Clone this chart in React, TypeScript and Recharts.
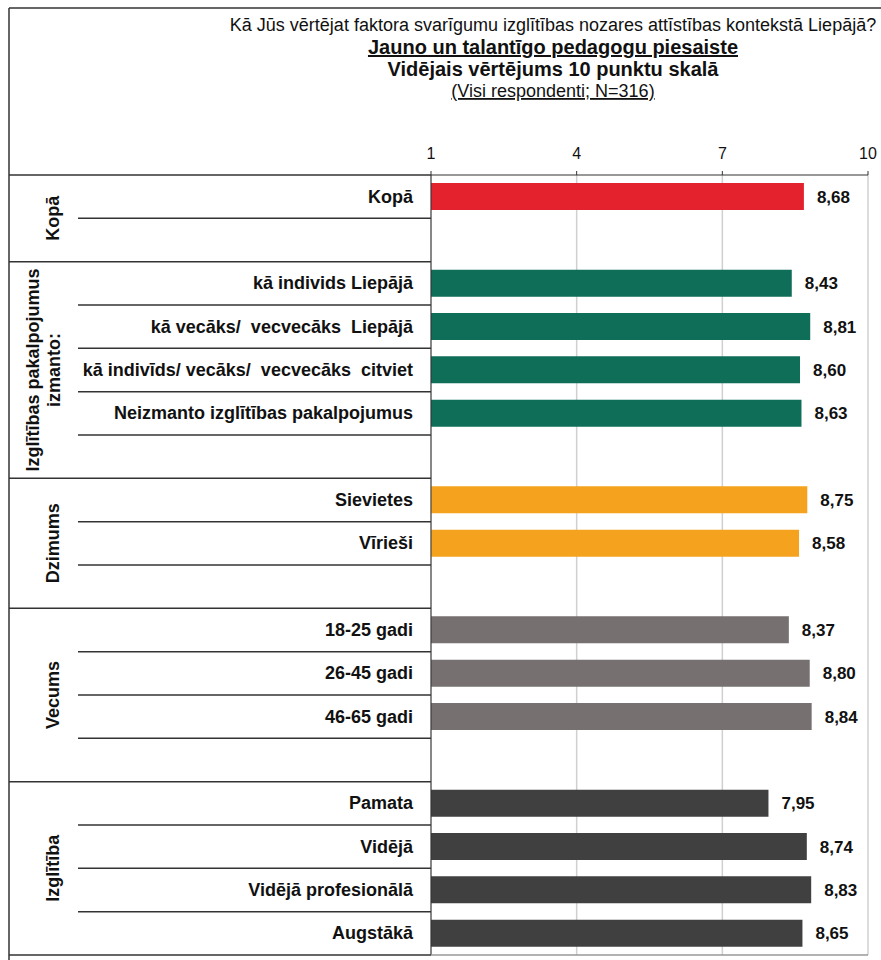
import React from 'react';
import { BarChart, Bar, XAxis, YAxis, CartesianGrid, Cell, LabelList } from 'recharts';

const GROUP_TITLES: string[][] = [
  ['Kopā'],
  ['Izglītības pakalpojumus', 'izmanto:'],
  ['Dzimums'],
  ['Vecums'],
  ['Izglītība'],
];
const KOPA_ITEMS = ['Kopā'];
const KOPA_VALUES = [8.68];
const USAGE_ITEMS = [
  'kā individs Liepājā',
  'kā vecāks/  vecvecāks  Liepājā',
  'kā indivīds/ vecāks/  vecvecāks  citviet',
  'Neizmanto izglītības pakalpojumus',
];
const USAGE_VALUES = [8.43, 8.81, 8.6, 8.63];
const GENDER_ITEMS = ['Sievietes', 'Vīrieši'];
const GENDER_VALUES = [8.75, 8.58];
const AGE_ITEMS = ['18-25 gadi', '26-45 gadi', '46-65 gadi'];
const AGE_VALUES = [8.37, 8.8, 8.84];
const EDU_ITEMS = ['Pamata', 'Vidējā', 'Vidējā profesionālā', 'Augstākā'];
const EDU_VALUES = [7.95, 8.74, 8.83, 8.65];
const GROUP_COLORS = ['#e3222e', '#0f6e58', '#f5a31f', '#767170', '#404040'];
const X_TICKS = [1, 4, 7, 10];

const FONT = '"Liberation Sans", Arial, sans-serif';
const W = 881;
const H = 960;
const FRAME_LEFT = 9;
const INNER_LEFT = 78;
const PLOT_LEFT = 431;
const PLOT_RIGHT = 868;
const PLOT_TOP = 175;
const PLOT_BOTTOM = 955;
const X_AXIS_H = 30;

interface Row {
  key: string;
  label: string;
  value: number | null;
  color: string;
  group: number;
  pos: number;
  groupSize: number;
}

const groups = [
  { items: KOPA_ITEMS, values: KOPA_VALUES, spacer: true },
  { items: USAGE_ITEMS, values: USAGE_VALUES, spacer: true },
  { items: GENDER_ITEMS, values: GENDER_VALUES, spacer: true },
  { items: AGE_ITEMS, values: AGE_VALUES, spacer: true },
  { items: EDU_ITEMS, values: EDU_VALUES, spacer: false },
];

const rows: Row[] = [];
groups.forEach((g, gi) => {
  const size = g.items.length + (g.spacer ? 1 : 0);
  g.items.forEach((label, i) =>
    rows.push({ key: `r${rows.length}`, label, value: g.values[i], color: GROUP_COLORS[gi], group: gi, pos: i, groupSize: size })
  );
  if (g.spacer) {
    rows.push({ key: `r${rows.length}`, label: '', value: null, color: GROUP_COLORS[gi], group: gi, pos: g.items.length, groupSize: size });
  }
});
const rowByKey: Record<string, Row> = {};
rows.forEach((r) => (rowByKey[r.key] = r));

const BAND = (PLOT_BOTTOM - PLOT_TOP) / rows.length;

const RowTick = (props: any) => {
  const { x, y, payload } = props;
  const row = rowByKey[payload.value];
  if (!row) return null;
  const top = y - BAND / 2;
  const bottom = y + BAND / 2;
  const lastInGroup = row.pos === row.groupSize - 1;
  const isLastRow = row.key === rows[rows.length - 1].key;
  const title = GROUP_TITLES[row.group];
  const cy = top + (row.groupSize * BAND) / 2;
  return (
    <g>
      {row.label && (
        <text
          x={x}
          y={y + 6}
          textAnchor="end"
          fontFamily={FONT}
          fontSize={18}
          fontWeight="bold"
          fill="#111"
          style={{ whiteSpace: 'pre' }}
        >
          {row.label}
        </text>
      )}
      {row.key === rows[0].key && <line x1={FRAME_LEFT} x2={PLOT_LEFT} y1={top} y2={top} stroke="#333" strokeWidth={1.5} />}
      <line x1={lastInGroup ? FRAME_LEFT : INNER_LEFT} x2={PLOT_LEFT} y1={bottom} y2={bottom} stroke="#333" strokeWidth={1.5} />
      {isLastRow && <line x1={PLOT_LEFT} x2={PLOT_RIGHT} y1={bottom} y2={bottom} stroke="#999" strokeWidth={1.5} />}
      {row.pos === 0 &&
        title.map((t, i) => {
          const bx = title.length === 1 ? 59 : 39 + i * 21;
          return (
            <text
              key={i}
              x={bx}
              y={cy}
              transform={`rotate(-90 ${bx} ${cy})`}
              textAnchor="middle"
              fontFamily={FONT}
              fontSize={18}
              fontWeight="bold"
              fill="#111"
            >
              {t}
            </text>
          );
        })}
    </g>
  );
};

const fmt = (v: any) => (v == null ? '' : Number(v).toFixed(2).replace('.', ','));

const App: React.FC = () => {
  return (
    <div style={{ position: 'fixed', left: 0, top: 0, width: W, height: H, background: '#fff', overflow: 'hidden' }}>
      <BarChart
        width={W}
        height={H}
        data={rows}
        layout="vertical"
        margin={{ top: PLOT_TOP - X_AXIS_H, left: FRAME_LEFT, right: W - PLOT_RIGHT, bottom: H - PLOT_BOTTOM }}
      >
        <CartesianGrid horizontal={false} stroke="#d0d0d0" strokeWidth={1.5} />
        <XAxis
          type="number"
          orientation="top"
          domain={[1, 10]}
          ticks={X_TICKS}
          height={X_AXIS_H}
          tickSize={4}
          tickMargin={12}
          stroke="#333"
          tick={{ fontFamily: FONT, fontSize: 16, fill: '#111' }}
          allowDataOverflow
        />
        <YAxis
          type="category"
          dataKey="key"
          width={PLOT_LEFT - FRAME_LEFT}
          tickLine={false}
          tickSize={0}
          tickMargin={18}
          stroke="#333"
          interval={0}
          tick={<RowTick />}
        />
        <Bar dataKey="value" barSize={27} isAnimationActive={false}>
          {rows.map((r) => (
            <Cell key={r.key} fill={r.color} />
          ))}
          <LabelList
            dataKey="value"
            position="right"
            offset={13}
            formatter={fmt}
            style={{ fontFamily: FONT, fontSize: 17, fontWeight: 'bold', fill: '#111' }}
          />
        </Bar>
      </BarChart>
      <svg width={W} height={H} style={{ position: 'absolute', left: 0, top: 0, pointerEvents: 'none' }}>
        <line x1={FRAME_LEFT} x2={W} y1={8} y2={8} stroke="#333" strokeWidth={1.5} />
        <line x1={FRAME_LEFT} x2={FRAME_LEFT} y1={8} y2={H} stroke="#333" strokeWidth={1.5} />
        <g fontFamily={FONT} fill="#111" textAnchor="middle">
          <text x={553} y={31} fontSize={18}>
            Kā Jūs vērtējat faktora svarīgumu izglītības nozares attīstības kontekstā Liepājā?
          </text>
          <text x={553} y={54} fontSize={20} fontWeight="bold" textDecoration="underline">
            Jauno un talantīgo pedagogu piesaiste
          </text>
          <text x={553} y={76} fontSize={20} fontWeight="bold">
            Vidējais vērtējums 10 punktu skalā
          </text>
          <text x={553} y={97} fontSize={18} textDecoration="underline">
            (Visi respondenti; N=316)
          </text>
        </g>
      </svg>
    </div>
  );
};

export default App;
